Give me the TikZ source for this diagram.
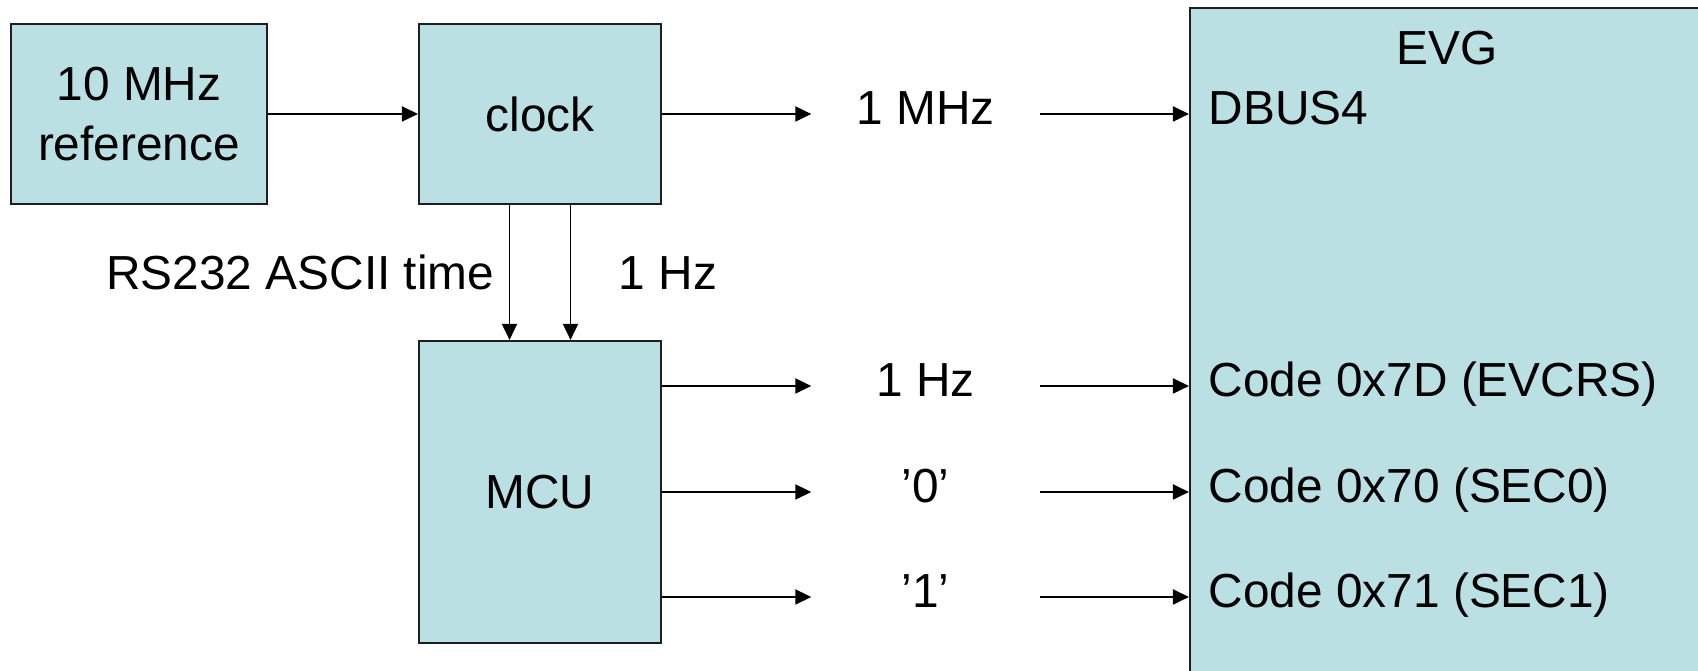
\documentclass[tikz,border=0pt]{standalone}
\usepackage{fontspec}
\setmainfont{Liberation Sans}
\usetikzlibrary{arrows.meta}
\definecolor{boxfill}{RGB}{187,224,227}
\definecolor{boxline}{RGB}{30,30,30}
\tikzset{
    lab/.style={
        font=\fontsize{13.6}{17}\selectfont
    }
}

\begin{document}
\begin{tikzpicture}[x=1cm,y=1cm]

\tikzset{
  blk/.style={draw=boxline, fill=boxfill, line width=0.6pt, inner sep=0pt, lab},
  sig/.style={draw=black, line width=0.55pt, -{Triangle[length=0.16cm,width=0.15cm]}},
  sigl/.style={lab, inner sep=0pt, minimum width=2.27cm, text height=0.34cm, text depth=0.12cm},
  port/.style={lab, anchor=base west, inner sep=0pt},
}

% frame
\useasboundingbox (0,0) rectangle (16.98,6.71);
\clip (0,0) rectangle (16.98,6.71);

% blocks
\node[blk, minimum width=2.56cm, minimum height=1.80cm, align=center] (ref) at (1.39,5.57) {10 MHz\\reference};
\node[blk, minimum width=2.42cm, minimum height=1.80cm] (clock) at (5.40,5.57) {clock};
\node[blk, minimum width=2.42cm, minimum height=3.02cm] (mcu) at (5.40,1.79) {MCU};
\node[blk, minimum width=5.14cm, minimum height=7.12cm] (evg) at (14.47,3.07) {};

% signal names
\node[sigl] (mhz) at (9.255,5.57) {1 MHz};
\node[sigl] (hz) at (9.255,2.85) {1 Hz};
\node[sigl] (szero) at (9.255,1.79) {’0’};
\node[sigl] (sone) at (9.255,0.74) {’1’};

% evg ports
\node[lab, anchor=base, inner sep=0pt] (evgname) at (14.47,6.06) {EVG};
\node[port] (dbus) at (12.08,5.46) {DBUS4};
\node[port] (evcrs) at (12.08,2.74) {Code 0x7D (EVCRS)};
\node[port] (sec0) at (12.08,1.68) {Code 0x70 (SEC0)};
\node[port] (sec1) at (12.08,0.63) {Code 0x71 (SEC1)};

% edges top row
\draw[sig] (ref) -- (clock);
\draw[sig] (clock) -- (mhz);
\draw[sig] (mhz) -- (mhz -| evg.west);

% edges clock -> mcu
\draw[sig] ([xshift=-0.305cm]clock.south) -- ([xshift=-0.305cm]mcu.north);
\draw[sig] ([xshift=0.305cm]clock.south) -- ([xshift=0.305cm]mcu.north);
\node[lab, anchor=base east, inner sep=0pt] (rs) at (4.95,3.81) {RS232 ASCII time};
\node[lab, anchor=base west, inner sep=0pt] (tick) at (6.18,3.81) {1 Hz};

% edges mcu -> evg
\draw[sig] (mcu.east |- hz) -- (hz);
\draw[sig] (hz) -- (hz -| evg.west);
\draw[sig] (mcu.east |- szero) -- (szero);
\draw[sig] (szero) -- (szero -| evg.west);
\draw[sig] (mcu.east |- sone) -- (sone);
\draw[sig] (sone) -- (sone -| evg.west);

\end{tikzpicture}
\end{document}
